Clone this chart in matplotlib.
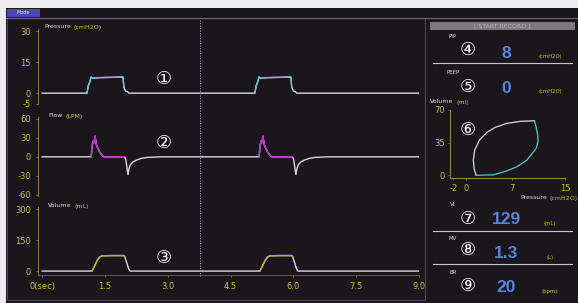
import numpy as np
import matplotlib
matplotlib.use("Agg")
import matplotlib.pyplot as plt
from matplotlib.patches import Rectangle
from matplotlib.lines import Line2D
from matplotlib import transforms

W, H = 578, 303

# breath waveform shapes, times relative to breath start (s)
breath_starts = [1.07, 5.08]
press_dt = [0, 0.03, 0.06, 0.10, 0.14, 0.30, 0.50, 0.70, 0.86, 0.88, 0.92, 0.96, 1.00]
press_val = [0, 3.5, 5.0, 7.8, 7.2, 7.5, 7.6, 7.7, 7.8, 3.0, 1.0, 0.8, 0]
flow_dt = [0, 0.10, 0.13, 0.15, 0.17, 0.19, 0.23, 0.30, 0.39, 0.86, 0.90, 0.93, 0.96,
           0.98, 1.00, 1.03, 1.10, 1.19, 1.30, 1.43, 1.75]
flow_val = [0, 0, 20, 25, 22, 33, 18, 8, 0, 0, 0, -5, -20, -28, -20, -13, -8, -5, -2.5, -1, 0]
vol_dt = [0, 0.12, 0.17, 0.24, 0.30, 0.36, 0.60, 0.88, 0.90, 0.95, 1.00, 1.03]
vol_val = [0, 0, 20, 50, 68, 74, 75, 75, 72, 40, 8, 0]

# pressure-volume loop
loop_in_p = [1.46, 1.16, 1.05, 1.26, 1.97, 3.09, 4.35, 6.13, 8.16, 10.34]
loop_in_v = [0, 7.2, 16.1, 26.9, 37.7, 45.9, 51.3, 55.6, 57.8, 58.5]
loop_ex_p = [10.34, 10.6, 10.85, 10.9, 10.6, 9.18, 7.66, 6.13, 4.1, 1.46]
loop_ex_v = [58.5, 52, 43, 35.9, 28.7, 16.1, 9, 4.6, 0.4, 0]

# readouts
param_names = ["PIP", "PEEP", "Vt", "MV", "BR"]
param_values = ["8", "0", "129", "1.3", "20"]
param_units = ["(cmH2O)", "(cmH2O)", "(mL)", "(L)", "(bpm)"]

x_ticks = [0, 1.5, 3.0, 4.5, 6.0, 7.5, 9.0]
x_labels = ["0(sec)", "1.5", "3.0", "4.5", "6.0", "7.5", "9.0"]
marker_t = 3.77

bg = "#1b161c"
yellow = "#c8c040"
axis_yel = "#8a8636"
white = "#d8d8e4"
blue = "#5a84d8"
circ_font = ["DejaVu Sans", "Noto Sans CJK JP"]

plt.rcParams["axes.unicode_minus"] = False

fig = plt.figure(figsize=(W / 100, H / 100), dpi=100)
fig.patch.set_facecolor(bg)


def px_axes(x0, y0, x1, y1):
	ax = fig.add_axes([x0 / W, 1 - y1 / H, (x1 - x0) / W, (y1 - y0) / H])
	ax.set_facecolor("none")
	return ax


def ftext(x, y, s, **kw):
	kw.setdefault("va", "center")
	return fig.text(x / W, 1 - y / H, s, **kw)


def name_unit(ax, x, y, name, unit, size=4.5):
	# white name followed by the yellow unit
	t = ftext(x, y, name, color=white, fontsize=size, va="baseline")
	ax.annotate(unit, xy=(1, 0), xycoords=t, xytext=(2, 0), textcoords="offset points",
	            color=yellow, fontsize=size, va="baseline", ha="left", annotation_clip=False)


def frect(x0, y0, x1, y1, **kw):
	fig.patches.append(Rectangle((x0 / W, 1 - y1 / H), (x1 - x0) / W, (y1 - y0) / H,
	                             transform=fig.transFigure, **kw))


def hline(x0, x1, y, **kw):
	fig.add_artist(Line2D([x0 / W, x1 / W], [1 - y / H, 1 - y / H], transform=fig.transFigure, **kw))


# frame
frect(0, 0, W, 8, color="#ececf0", lw=0)
frect(0, 0, 6, H, color="#ececf0", lw=0)
frect(7, 18, 425, 300, fill=False, edgecolor="#4a4858", lw=0.8)
hline(6, W, 17.5, color="#6a6a88", lw=0.8)
frect(7, 8.5, 40, 17, color="#4a4aa8", lw=0)
ftext(23, 12.8, "Mode", color="#e0e0ff", fontsize=3.5, ha="center")
frect(430, 22, 575, 30, color="#7a7a7e", lw=0)
ftext(502, 26, "[ START RECORD ]", color="#b4b4b8", fontsize=4.5, ha="center")


def build(dt, val):
	t = [0.0]
	v = [0.0]
	for s in breath_starts:
		t += [s + d for d in dt]
		v += list(val)
	t.append(9.0)
	v.append(0.0)
	return np.array(t), np.array(v)


def style_axes(ax, ylim, yticks, bottom=False):
	ax.set_xlim(-0.1, 9.0)
	ax.set_ylim(*ylim)
	ax.set_yticks(yticks)
	for sp in ["top", "right"]:
		ax.spines[sp].set_visible(False)
	ax.spines["left"].set_color(axis_yel)
	ax.spines["left"].set_linewidth(0.7)
	ax.spines["left"].set_linestyle((0, (2, 1)))
	if bottom:
		ax.spines["bottom"].set_color("#6a6840")
		ax.spines["bottom"].set_linewidth(0.6)
		ax.spines["bottom"].set_linestyle((0, (1, 1)))
		ax.set_xticks(x_ticks)
		ax.set_xticklabels(x_labels)
	else:
		ax.spines["bottom"].set_visible(False)
		ax.set_xticks([])
	ax.tick_params(colors=axis_yel, labelcolor=yellow, labelsize=6, length=1.5, width=0.6, pad=3.5)


ax_p = px_axes(38, 29, 419, 103.5)
ax_f = px_axes(38, 117, 419, 196)
ax_v = px_axes(38, 207, 419, 275)
style_axes(ax_p, (-5, 31), [-5, 0, 15, 30])
style_axes(ax_f, (-62, 63), [-60, -30, 0, 30, 60])
style_axes(ax_v, (-19, 310), [0, 150, 300], bottom=True)

traces = [
	(ax_p, press_dt, press_val, "#5cc4d4", 0, 9),
	(ax_f, flow_dt, flow_val, "#b034c4", 1, 10),
	(ax_v, vol_dt, vol_val, "#b4ae30", 1, 8),
]
for ax, dt, val, col, i0, i1 in traces:
	t, v = build(dt, val)
	ax.plot(t, v, color=white, lw=1.0, solid_joinstyle="round")
	for s in breath_starts:
		ts = [s + d for d in dt[i0:i1 + 1]]
		ax.plot(ts, val[i0:i1 + 1], color=col, lw=1.0)

# dotted time marker through all three plots
trans = transforms.blended_transform_factory(ax_p.transData, fig.transFigure)
fig.add_artist(Line2D([marker_t, marker_t], [1 - 20 / H, 1 - 276 / H], transform=trans,
                      color="#a8a8b4", lw=0.6, ls=(0, (1.5, 1.5))))

# plot titles
name_unit(ax_p, 44, 28, "Pressure", "(cmH2O)")
name_unit(ax_f, 48, 117, "Flow", "(LPM)")
name_unit(ax_v, 48, 207, "Volume", "(mL)")

for y, s in [(79, "\u2460"), (143, "\u2461"), (258, "\u2462")]:
	ftext(164, y, s, color="white", fontsize=13, ha="center", family=circ_font)

# P-V loop
ax_l = px_axes(450, 110, 565, 178)
ax_l.set_xlim(-2.5, 15)
ax_l.set_ylim(-3, 70)
ax_l.plot(loop_in_p, loop_in_v, color=white, lw=0.9)
ax_l.plot(loop_ex_p, loop_ex_v, color="#5cc4d4", lw=0.9)
ax_l.set_xticks([-2, 0, 7, 15])
ax_l.set_yticks([0, 35, 70])
for sp in ["top", "right"]:
	ax_l.spines[sp].set_visible(False)
for sp in ["left", "bottom"]:
	ax_l.spines[sp].set_color(axis_yel)
	ax_l.spines[sp].set_linewidth(0.8)
ax_l.tick_params(colors=axis_yel, labelcolor=yellow, labelsize=6, length=1.5, width=0.6, pad=2.5)
name_unit(ax_l, 430, 103, "Volume", "(ml)")
name_unit(ax_l, 520, 199, "Pressure", "(cmH2O)")
ftext(468, 130, "\u2465", color="white", fontsize=13, ha="center", family=circ_font)

# readouts
label_y = [37, 72, 205, 238, 272]
value_y = [54, 88.5, 219, 254, 287]
unit_y = [57, 91, 224, 257, 292]
circ = ["\u2463", "\u2464", "\u2466", "\u2467", "\u2468"]
circ_y = [50, 87, 219, 250, 286]
for i in range(5):
	ftext(453, label_y[i], param_names[i], color=white, fontsize=4, ha="center")
	ftext(468, circ_y[i], circ[i], color="white", fontsize=13, ha="center", family=circ_font)
	ftext(506, value_y[i], param_values[i], color=blue, fontsize=12.5, weight="bold",
	      ha="center", family="Liberation Sans")
	ftext(550, unit_y[i], param_units[i], color=yellow, fontsize=3.8, ha="center")
for y in [63, 231, 264]:
	hline(433, 572, y, color="#c4c4cc", lw=0.8)

fig.savefig("out.png", dpi=100, facecolor=bg)
